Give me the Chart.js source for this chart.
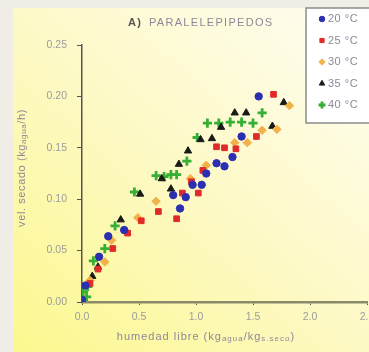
<!DOCTYPE html>
<html>
<head>
<meta charset="utf-8">
<script src="https://cdn.jsdelivr.net/npm/chart.js@4"></script>
<style>
  html, body { margin: 0; padding: 0; overflow: hidden; background: #efede6; }
  #wrap { position: absolute; left: 0; top: 0; width: 380px; height: 352px; }
</style>
</head>
<body>
<div id="wrap"><canvas id="secado" width="380" height="352"></canvas></div>
<script>
// humedad libre (x) / vel. secado (y) for each temperature
var x20 = [0.00, 0.03, 0.15, 0.23, 0.37, 0.80, 0.86, 0.91, 0.97, 1.05, 1.09, 1.18, 1.25, 1.32, 1.40, 1.55];
var y20 = [0.002, 0.016, 0.044, 0.064, 0.070, 0.104, 0.091, 0.102, 0.114, 0.114, 0.125, 0.135, 0.132, 0.141, 0.161, 0.200];

var x25 = [0.00, 0.07, 0.14, 0.27, 0.40, 0.52, 0.67, 0.83, 0.88, 0.96, 1.02, 1.06, 1.18, 1.25, 1.35, 1.53, 1.68];
var y25 = [0.000, 0.018, 0.032, 0.052, 0.067, 0.079, 0.088, 0.081, 0.106, 0.117, 0.106, 0.128, 0.151, 0.150, 0.149, 0.161, 0.202];

var x30 = [0.00, 0.07, 0.20, 0.26, 0.49, 0.65, 0.95, 1.09, 1.34, 1.45, 1.58, 1.71, 1.82];
var y30 = [0.000, 0.021, 0.039, 0.060, 0.082, 0.098, 0.120, 0.133, 0.155, 0.155, 0.167, 0.168, 0.191];

var x35 = [0.00, 0.09, 0.14, 0.34, 0.51, 0.70, 0.78, 0.85, 0.93, 1.04, 1.14, 1.22, 1.34, 1.44, 1.67, 1.77];
var y35 = [0.000, 0.025, 0.034, 0.080, 0.105, 0.120, 0.110, 0.134, 0.147, 0.158, 0.159, 0.170, 0.184, 0.184, 0.171, 0.194];

var x40 = [0.00, 0.01, 0.04, 0.05, 0.10, 0.20, 0.29, 0.46, 0.65, 0.72, 0.78, 0.83, 0.92, 1.01, 1.10, 1.20, 1.30, 1.40, 1.50, 1.58];
var y40 = [0.002, 0.010, 0.005, 0.015, 0.040, 0.052, 0.074, 0.107, 0.123, 0.122, 0.124, 0.124, 0.137, 0.160, 0.174, 0.174, 0.175, 0.175, 0.174, 0.184];

var seriesNames = ["20 °C", "25 °C", "30 °C", "35 °C", "40 °C"];
var xTicks = [0, 0.5, 1.0, 1.5, 2.0, 2.5];
var yTicks = [0, 0.05, 0.10, 0.15, 0.20, 0.25];

function toPoints(xs, ys) {
   var pts = [];
   for (let i = 0; i < xs.length; i++) {
      pts.push({ x: xs[i], y: ys[i] });
   }
   return pts;
}

var styles = [
   { pointStyle: "circle", color: "#2b2fb0", radius: 3.7, border: 1 },
   { pointStyle: "rect", color: "#e02a2a", radius: 4, border: 1 },
   { pointStyle: "rectRot", color: "#f2b24a", radius: 4.2, border: 1 },
   { pointStyle: "triangle", color: "#1a1a1a", radius: 4.2, border: 1 },
   { pointStyle: "cross", color: "#35b035", radius: 4.6, border: 2.8 },
];
var allX = [x20, x25, x30, x35, x40];
var allY = [y20, y25, y30, y35, y40];

var datasets = [];
for (let i = 0; i < seriesNames.length; i++) {
   datasets.push({
      label: seriesNames[i],
      data: toPoints(allX[i], allY[i]),
      pointStyle: styles[i].pointStyle,
      radius: styles[i].radius,
      backgroundColor: styles[i].color,
      borderColor: styles[i].color,
      borderWidth: styles[i].border,
   });
}

var FONT = "'Liberation Sans', Arial";
var textGrey = "#8f8799";

function drawParts(c, parts, cx, cy) {
   var total = 0;
   parts.forEach(function (p) {
      c.font = p[1] + "px " + FONT;
      total += c.measureText(p[0]).width;
   });
   var px = cx - total / 2;
   parts.forEach(function (p) {
      c.font = p[1] + "px " + FONT;
      c.fillText(p[0], px, cy + p[2]);
      px += c.measureText(p[0]).width;
   });
}

// background panel, title, axis titles and boxed legend
var decor = {
   id: "decor",
   beforeDraw: function (chart) {
      var c = chart.ctx;
      c.save();
      c.fillStyle = "#efede6";
      c.fillRect(0, 0, chart.width, chart.height);
      var g = c.createLinearGradient(13, 352, 330, 0);
      g.addColorStop(0, "#fcf88e");
      g.addColorStop(0.5, "#fdf9c4");
      g.addColorStop(1, "#fefdf0");
      c.fillStyle = g;
      c.fillRect(13, 8, chart.width - 13, chart.height - 8);
      c.restore();
   },
   afterDraw: function (chart) {
      var c = chart.ctx;
      c.save();
      c.textBaseline = "middle";
      c.textAlign = "left";
      c.letterSpacing = "1.3px";
      // title
      c.font = "bold 11px " + FONT;
      c.fillStyle = "#555";
      c.fillText("A)", 128, 23);
      c.font = "11px " + FONT;
      c.fillStyle = textGrey;
      c.fillText("PARALELEPIPEDOS", 149, 23);

      // x axis title with subscripts
      c.letterSpacing = "1px";
      drawParts(c, [
         ["humedad libre (kg", 11, 0],
         ["agua", 8, 2],
         ["/kg", 11, 0],
         ["s.seco", 8, 2],
         [")", 11, 0],
      ], 206, 337);

      // y axis title rotated
      c.letterSpacing = "0.6px";
      c.translate(22, 168);
      c.rotate(-Math.PI / 2);
      drawParts(c, [
         ["vel. secado (kg", 11, 0],
         ["agua", 8, 2],
         ["/h)", 11, 0],
      ], 0, 0);
      c.setTransform(1, 0, 0, 1, 0, 0);

      // legend box
      c.fillStyle = "#ffffff";
      c.fillRect(306, 8, 80, 115);
      c.strokeStyle = "#8c8c8c";
      c.lineWidth = 1.5;
      c.strokeRect(306, 8, 80, 115);
      for (let i = 0; i < seriesNames.length; i++) {
         var ly = 19 + i * 21.5;
         var s = styles[i];
         c.fillStyle = s.color;
         c.strokeStyle = s.color;
         c.lineWidth = s.border;
         Chart.helpers.drawPoint(c, { pointStyle: s.pointStyle, radius: s.radius * 0.75, borderWidth: s.border }, 322, ly);
         c.fillStyle = textGrey;
         c.font = "11px " + FONT;
         c.letterSpacing = "0.5px";
         c.fillText(seriesNames[i], 328, ly);
      }
      c.restore();
   },
};

var ctx = document.getElementById("secado").getContext("2d");
var chart = new Chart(ctx, {
   type: "scatter",
   data: { datasets: datasets },
   options: {
      responsive: false,
      animation: false,
      layout: { padding: { top: 45, left: 0, right: 13, bottom: 0 } },
      plugins: { legend: { display: false }, tooltip: { enabled: false } },
      scales: {
         x: {
            min: 0,
            max: 2.5,
            afterBuildTicks: function (s) {
               s.ticks = xTicks.map(function (v) { return { value: v }; });
            },
            afterFit: function (s) {
               s.height = 50;
               s.paddingLeft = 0;
               s.paddingRight = 0;
            },
            grid: { drawOnChartArea: false, drawTicks: true, tickLength: 3, color: "#555" },
            border: { color: "#8a8a6a", width: 2.5 },
            ticks: {
               color: "#9c9c9c",
               font: { size: 10.5, family: FONT },
               padding: 6,
               maxRotation: 0,
               callback: function (v) { return v.toFixed(1); },
            },
         },
         y: {
            min: 0,
            max: 0.25,
            afterBuildTicks: function (s) {
               s.ticks = yTicks.map(function (v) { return { value: v }; });
            },
            afterFit: function (s) {
               s.width = 82;
               s.paddingTop = 0;
               s.paddingBottom = 0;
            },
            grid: { drawOnChartArea: false, drawTicks: true, tickLength: 5, color: "#555" },
            border: { color: "#555", width: 1.5 },
            ticks: {
               color: "#9c9c9c",
               font: { size: 10.5, family: FONT },
               padding: 10,
               callback: function (v) { return v.toFixed(2); },
            },
         },
      },
   },
   plugins: [decor],
});
</script>
</body>
</html>
